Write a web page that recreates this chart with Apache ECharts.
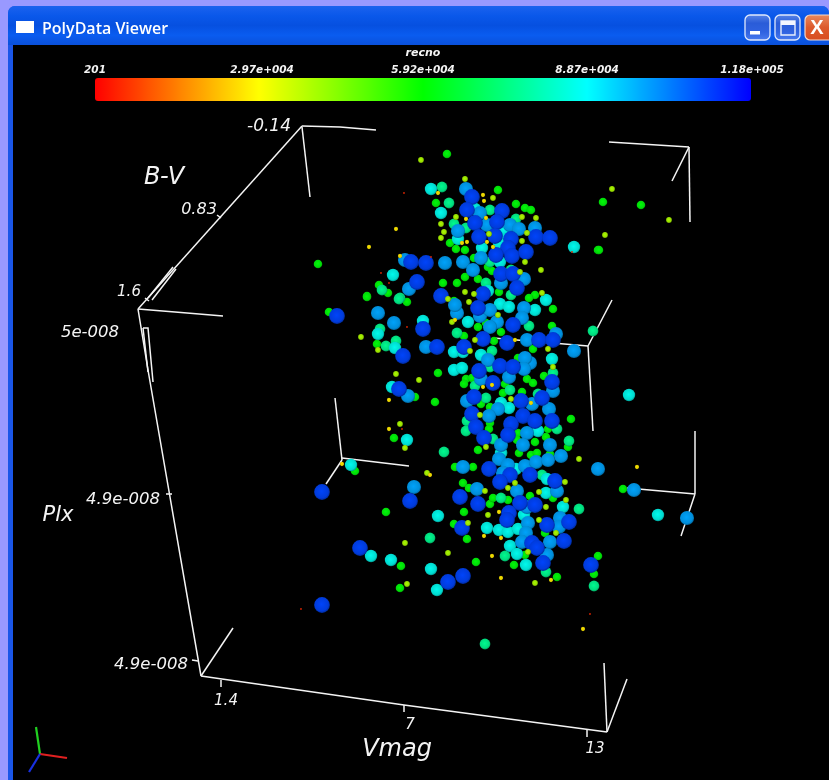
<!DOCTYPE html>
<html><head><meta charset="utf-8">
<style>html,body{margin:0;padding:0;background:#9999ff}#c{width:829px;height:780px;filter:blur(0.4px)}</style>
<script src="https://cdn.jsdelivr.net/npm/echarts@6/dist/echarts.min.js"></script>
</head><body><div id="c"></div>
<script>
// Projected screen readings of the stars (picture x, picture y), grouped by recno colour class
const recnoMin = 201, recnoMax = 118000;
const colorStops = ['#ff0000','#ffff00','#00ff00','#00ffff','#0000ff'];
const colorTicks = ['201','2.97e+004','5.92e+004','8.87e+004','1.18e+005'];
const redStars = [[404,193],[381,273],[389,283],[431,257],[572,252],[590,614],[301,609],[402,429],[407,327]];
const yellowStars = [[396,229],[369,247],[438,193],[400,256],[483,195],[484,201],[486,218],[466,219],[462,243],[467,242],[487,242],[493,247],[389,400],[389,429],[342,464],[430,475],[499,512],[484,536],[501,538],[492,556],[583,629],[637,467],[501,578],[551,580],[531,403],[492,385],[515,340],[455,320],[483,387]];
const limeStars = [[421,160],[465,179],[493,198],[536,218],[522,217],[456,217],[441,224],[444,232],[441,238],[489,234],[522,241],[527,233],[525,262],[541,270],[520,272],[465,292],[474,294],[542,293],[448,299],[469,302],[452,322],[361,337],[378,350],[396,374],[419,380],[400,424],[405,448],[498,315],[475,340],[470,351],[548,349],[553,367],[511,399],[480,415],[486,447],[579,459],[427,473],[565,482],[485,491],[539,492],[508,488],[515,483],[566,500],[546,507],[488,515],[468,523],[539,520],[556,533],[405,543],[448,553],[528,552],[535,583],[407,584],[612,189],[605,235],[669,220]];
const greenStars = [[447,154],[318,264],[498,190],[436,203],[516,204],[525,208],[531,210],[598,250],[450,243],[456,249],[465,250],[474,258],[379,285],[388,293],[367,296],[443,283],[457,283],[465,277],[488,267],[492,271],[478,279],[499,292],[535,295],[529,298],[454,301],[329,312],[367,297],[407,302],[377,344],[438,373],[415,397],[435,402],[394,438],[553,309],[552,326],[486,323],[478,327],[464,336],[501,332],[494,341],[518,358],[533,349],[544,376],[466,379],[472,378],[505,384],[527,379],[533,383],[464,384],[503,393],[522,392],[481,404],[490,407],[571,419],[490,423],[489,429],[518,433],[517,440],[535,442],[546,437],[548,429],[568,447],[478,450],[519,453],[531,455],[537,453],[550,454],[355,471],[455,467],[473,467],[463,483],[469,488],[386,512],[490,504],[493,498],[508,500],[553,498],[530,496],[464,512],[454,524],[545,533],[467,539],[525,555],[476,562],[514,565],[598,556],[594,574],[401,566],[557,577],[400,588],[603,202],[641,205],[599,250],[623,489]];
const tealStars = [[442,187],[449,203],[490,210],[516,219],[466,228],[454,224],[490,262],[511,270],[382,290],[400,298],[486,283],[511,295],[380,329],[396,341],[386,346],[399,299],[444,452],[457,333],[529,326],[492,351],[490,367],[553,373],[475,386],[510,390],[538,394],[486,398],[467,421],[466,431],[557,429],[493,439],[569,441],[593,331],[502,453],[542,475],[501,498],[579,509],[430,538],[505,556],[546,572],[594,586],[485,644]];
const cyanStars = [[431,189],[441,213],[475,209],[458,239],[504,230],[505,240],[499,243],[482,248],[574,247],[393,275],[500,262],[488,291],[378,334],[423,321],[395,348],[392,387],[407,440],[468,322],[454,352],[463,352],[481,355],[552,359],[454,370],[462,368],[501,403],[509,408],[538,431],[501,453],[500,304],[509,307],[535,310],[546,300],[351,465],[516,469],[547,479],[546,493],[563,507],[524,515],[438,516],[487,528],[499,530],[508,532],[518,529],[510,546],[517,554],[526,565],[371,556],[391,560],[431,569],[437,590],[658,515],[629,395]];
const azureStars = [[466,189],[480,213],[487,225],[510,225],[519,229],[535,228],[458,231],[481,258],[463,262],[405,260],[445,263],[473,270],[524,279],[501,283],[409,289],[457,313],[455,305],[480,316],[490,310],[524,308],[522,318],[497,322],[490,327],[378,313],[394,323],[426,347],[408,396],[527,340],[556,334],[574,351],[488,360],[530,363],[525,358],[524,369],[509,377],[481,379],[553,391],[532,404],[467,401],[498,409],[549,409],[489,416],[527,433],[501,445],[523,445],[550,445],[561,456],[598,469],[463,467],[499,459],[508,465],[525,466],[536,462],[548,460],[503,473],[477,489],[517,491],[557,491],[527,507],[414,487],[634,490],[687,518],[528,523],[560,518],[559,527],[526,533],[522,542],[550,542],[547,555]];
const blueStars = [[472,197],[467,210],[502,211],[475,223],[497,222],[536,237],[550,238],[479,237],[495,236],[511,239],[508,248],[496,255],[512,256],[526,252],[411,262],[426,263],[417,282],[501,274],[513,274],[517,288],[483,294],[441,296],[478,308],[513,325],[337,316],[423,329],[403,356],[437,347],[483,339],[507,343],[539,340],[553,340],[464,347],[500,366],[513,367],[479,371],[493,383],[552,382],[399,389],[474,397],[542,398],[521,401],[472,414],[523,416],[535,421],[552,421],[476,427],[511,424],[484,438],[508,435],[322,492],[322,605],[410,501],[489,469],[510,475],[530,475],[555,481],[500,482],[460,497],[478,504],[535,505],[520,503],[509,513],[507,520],[547,525],[569,522],[462,528],[532,543],[564,541],[360,548],[537,548],[543,563],[591,565],[463,576],[448,582]];
const classRecno = {red:5000,yellow:27000,lime:39000,green:60000,teal:76000,cyan:87000,azure:99000,blue:110000};
// Bounding box pieces, projected
const boxSegments = [
 [[302,126],[138,309]],[[302,126],[340,127],[376,130]],[[302,127],[310,197]],
 [[138,309],[175,312],[223,316]],[[138,309],[148,370],[201,676]],
 [[143,328],[148,328],[153,382]],[[143,328],[148,372]],[[148,298],[173,267]],[[152,300],[176,269]],[[145,298],[149,301]],
 [[217,215],[221,218]],[[166,494],[172,494]],[[192,660],[198,661]],
 [[201,676],[404,705],[607,732]],[[201,676],[233,628]],[[221,680],[221,687]],[[404,705],[404,712]],[[587,729],[587,737]],
 [[607,732],[604,663]],[[607,732],[627,679]],
 [[689,147],[609,142]],[[689,147],[690,222]],[[689,147],[672,181]],
 [[588,346],[493,338]],[[588,346],[612,300]],[[588,346],[593,431]],
 [[695,494],[695,431]],[[695,494],[627,488]],[[695,494],[681,536]],
 [[342,460],[335,398]],[[342,460],[326,484]],[[342,458],[409,466]]
];
const triadSegments = [[[40,754],[36,727]],[[40,754],[67,758]],[[40,754],[29,772]]];
const triadColors = ['#20d020','#e02020','#1830e0'];
// Axis text: [x, y, text, px]
const axisTexts = [
 [269,127,'-0.14',17],[199,210,'0.83',16],[129,292,'1.6',15],[164,178,'B-V',24],
 [90,333,'5e-008',16.5],[123,500,'4.9e-008',16.5],[151,665,'4.9e-008',16.5],[58,516,'Plx',21],
 [226,701,'1.4',15],[410,725,'7',15],[595,749,'13',15],[397,750,'Vmag',24],
 [423,53,'recno',11],[95,70,colorTicks[0],10.5],[262,70,colorTicks[1],10.5],[423,70,colorTicks[2],10.5],[587,70,colorTicks[3],10.5],[752,70,colorTicks[4],10.5]
];
const radius = r => 0.7 + 7.8 * Math.pow(r / recnoMax, 1.15);
const withRecno = (pts, r) => pts.map(p => [p[0], p[1], r]);
const drawOrder = [[greenStars,'green'],[tealStars,'teal'],[cyanStars,'cyan'],[azureStars,'azure'],[blueStars,'blue'],[limeStars,'lime'],[yellowStars,'yellow'],[redStars,'red']];
const stars = drawOrder.flatMap(([p, n]) => withRecno(p, classRecno[n]));
const shade = (col, k) => { const c = echarts.color.parse(col); return 'rgb(' + Math.round(c[0]*k) + ',' + Math.round(c[1]*k) + ',' + Math.round(c[2]*k) + ')'; };

const chart = echarts.init(document.getElementById('c'), null, {renderer:'canvas'});
const rect = (x,y,w,h,fill,extra) => Object.assign({type:'rect',silent:true,z:-3,shape:Object.assign({x,y,width:w,height:h},extra&&extra.r?{r:extra.r}:{}),style:Object.assign({fill},extra&&extra.style||{})});
const vg = (stops) => new echarts.graphic.LinearGradient(0,0,0,1,stops.map((c,i)=>({offset:i/(stops.length-1),color:c})));
const blueBtn = ['#5a86e8','#2a5cd8','#2f62e0','#4a7cf0'];
chart.setOption({
 animation:false, backgroundColor:'#9999ff',
 grid:{left:0,right:0,top:0,bottom:0},
 xAxis:{type:'value',min:0,max:829,show:false},
 yAxis:{type:'value',min:0,max:780,inverse:true,show:false},
 visualMap:[{type:'continuous',show:true,seriesIndex:3,dimension:2,min:recnoMin,max:recnoMax,orient:'horizontal',left:95,top:78,itemWidth:23,itemHeight:656,text:null,showLabel:false,calculable:false,hoverLink:false,padding:0,realtime:false,inRange:{color:colorStops},outOfRange:{color:'#000'},textStyle:{fontSize:0}}],
 graphic:[
  rect(8,6,821,774,'#1a56e8',{r:[7,7,0,0]}),
  rect(8,6,821,39,vg(['#1b62ee','#0a58ea','#0650e0','#0a5cf0','#0a50da']),{r:[7,7,0,0]}),
  rect(13,45,816,735,'#000'),
  rect(16,21,18,12,'#fff'),
  {type:'text',z:-2,silent:true,style:{x:42,y:29,text:'PolyData Viewer',fill:'#fff',font:'600 16px "Open Sans", sans-serif',verticalAlign:'middle'}},
  rect(745,15,25,25,vg(blueBtn),{r:5,style:{stroke:'#dfe8fc',lineWidth:1.3}}),
  rect(750,31,10,3.5,'#fff'),
  rect(775,15,25,25,vg(blueBtn),{r:5,style:{stroke:'#dfe8fc',lineWidth:1.3}}),
  rect(781,21,14,14,'transparent',{style:{stroke:'#e8eefc',lineWidth:1.4}}),
  rect(781,21,14,4,'#f4f6ff'),
  rect(805,15,30,25,vg(['#e88a60','#dd5a2c','#d84c20']),{r:5,style:{stroke:'#f5d8c8',lineWidth:1.2}}),
  {type:'text',z:-2,silent:true,style:{x:817,y:28,text:'X',fill:'#fff',font:'bold 20px "Liberation Sans"',align:'center',verticalAlign:'middle'}}
 ],
 series:[
  {type:'lines',coordinateSystem:'cartesian2d',polyline:true,silent:true,z:3,
   data:boxSegments.map(s=>({coords:s})),lineStyle:{color:'#f4f4f4',width:1.5,opacity:1}},
  {type:'lines',coordinateSystem:'cartesian2d',polyline:true,silent:true,z:3,
   data:triadSegments.map((s,i)=>({coords:s,lineStyle:{color:triadColors[i],width:2.2,opacity:1}}))},
  {type:'custom',coordinateSystem:'cartesian2d',silent:true,z:6,clip:false,
   data:axisTexts.map(t=>[t[0],t[1],t[3]]),encode:{x:0,y:1},
   renderItem:(p,api)=>{const c=api.coord([api.value(0),api.value(1)]);const px=api.value(2);
    const w=px<=11?'bold ':'';
    return {type:'text',style:{x:c[0],y:c[1],text:axisTexts[p.dataIndex][2],fill:'#f4f4f4',font:'italic '+w+px+'px "DejaVu Sans", sans-serif',align:'center',verticalAlign:'middle'}};}},
  {type:'custom',coordinateSystem:'cartesian2d',silent:true,z:5,clip:false,
   data:stars,encode:{x:0,y:1},
   renderItem:(p,api)=>{const c=api.coord([api.value(0),api.value(1)]);const r=radius(api.value(2));const col=api.visual('color');
    return {type:'circle',shape:{cx:c[0],cy:c[1],r:r},style:{fill:new echarts.graphic.RadialGradient(0.47,0.45,0.6,[{offset:0,color:shade(col,0.98)},{offset:0.7,color:shade(col,0.86)},{offset:1,color:shade(col,0.5)}])}};}}
 ]
});
</script></body></html>
